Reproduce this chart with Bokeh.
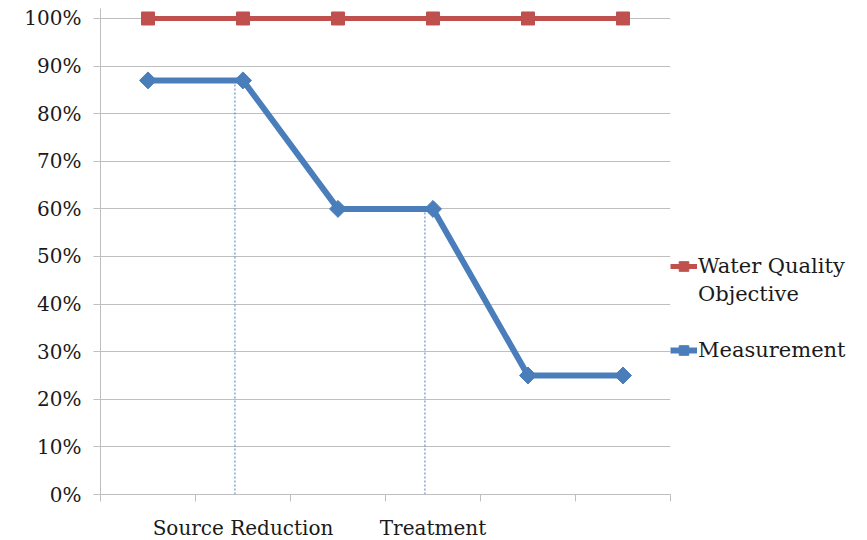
from bokeh.plotting import figure
from bokeh.models import (Range1d, FixedTicker, NumeralTickFormatter, Legend, LegendItem,
                          ColumnDataSource)
from bokeh.embed import file_html
from bokeh.resources import INLINE
import math

# ---- data ----
stage_pos = [1, 2, 3, 4, 5, 6]
stage_labels = ["", "Source Reduction", "", "Treatment", "", ""]
objective = [1.00, 1.00, 1.00, 1.00, 1.00, 1.00]
measurement = [0.87, 0.87, 0.60, 0.60, 0.25, 0.25]
y_ticks = [0.0, 0.1, 0.2, 0.3, 0.4, 0.5, 0.6, 0.7, 0.8, 0.9, 1.0]
drop_stages = [2, 4]   # stages with dotted drop lines

FONT = "DejaVu Serif"
TXT = "#1a1a1a"
GRID = "#bfbfbf"
RED = "#c0504d"
BLUE = "#4a7ebb"

p = figure(frame_width=570, frame_height=486,
           min_border_left=100, min_border_right=189, min_border_top=8, min_border_bottom=38,
           x_range=Range1d(0.5, 6.5), y_range=Range1d(0, 1.021),
           output_backend="svg", toolbar_location=None, background_fill_color="white",
           border_fill_color="white")
p.outline_line_color = None

# y axis
p.yaxis.ticker = FixedTicker(ticks=y_ticks)
p.yaxis.formatter = NumeralTickFormatter(format="0%")
p.yaxis.axis_line_color = GRID
p.yaxis.major_tick_line_color = GRID
p.yaxis.major_tick_out = 7
p.yaxis.major_tick_in = 0
p.yaxis.minor_tick_line_color = None
p.yaxis.major_label_standoff = 12
p.yaxis.major_label_text_font = FONT
p.yaxis.major_label_text_font_size = "20px"
p.yaxis.major_label_text_color = TXT

# x axis: ticks at category boundaries, labels at category centres
boundaries = [s - 0.5 for s in stage_pos] + [stage_pos[-1] + 0.5]
label_pos = [s for s, l in zip(stage_pos, stage_labels) if l]
p.xaxis.ticker = FixedTicker(ticks=label_pos, minor_ticks=boundaries)
p.xaxis.major_label_overrides = {s: l for s, l in zip(stage_pos, stage_labels) if l}
p.xaxis.axis_line_color = GRID
p.xaxis.major_tick_line_color = None
p.xaxis.major_tick_out = 0
p.xaxis.major_tick_in = 0
p.xaxis.minor_tick_line_color = GRID
p.xaxis.minor_tick_out = 7
p.xaxis.minor_tick_in = 0
p.xaxis.major_label_standoff = 14
p.xaxis.major_label_text_font = FONT
p.xaxis.major_label_text_font_size = "20px"
p.xaxis.major_label_text_color = TXT

p.xgrid.grid_line_color = None
p.ygrid.grid_line_color = GRID
p.ygrid.grid_line_width = 1

# dotted drop lines
drop_x = [s - 0.085 for s in drop_stages]
drop_top = [measurement[stage_pos.index(s)] for s in drop_stages]
p.segment(x0=drop_x, y0=[0] * len(drop_x), x1=drop_x, y1=drop_top,
          line_color="#4a7ebb", line_width=1, line_dash="2 2")

src = ColumnDataSource(dict(x=stage_pos, obj=objective, meas=measurement))
r_obj_l = p.line("x", "obj", source=src, line_color=RED, line_width=5)
r_obj_m = p.scatter("x", "obj", source=src, marker="square", size=13,
                    fill_color=RED, line_color=RED)
r_meas_l = p.line("x", "meas", source=src, line_color=BLUE, line_width=6)
r_meas_m = p.scatter("x", "meas", source=src, marker="square", size=12, angle=math.pi / 4,
                     fill_color=BLUE, line_color=BLUE)
r_blank = p.line(x=[], y=[], line_alpha=0)

legend = Legend(items=[LegendItem(label="Water Quality", renderers=[r_obj_l, r_obj_m]),
                       LegendItem(label="Objective", renderers=[r_blank]),
                       LegendItem(label=" ", renderers=[r_blank]),
                       LegendItem(label="Measurement", renderers=[r_meas_l, r_meas_m])],
                location=(0, 132), orientation="vertical",
                padding=0, margin=0, spacing=4,
                glyph_width=27, glyph_height=24, label_height=24, label_standoff=1,
                label_text_font=FONT, label_text_font_size="21px", label_text_color=TXT,
                border_line_color=None, background_fill_alpha=0)
p.add_layout(legend, "right")

open("out.html", "w").write(file_html(p, INLINE))
